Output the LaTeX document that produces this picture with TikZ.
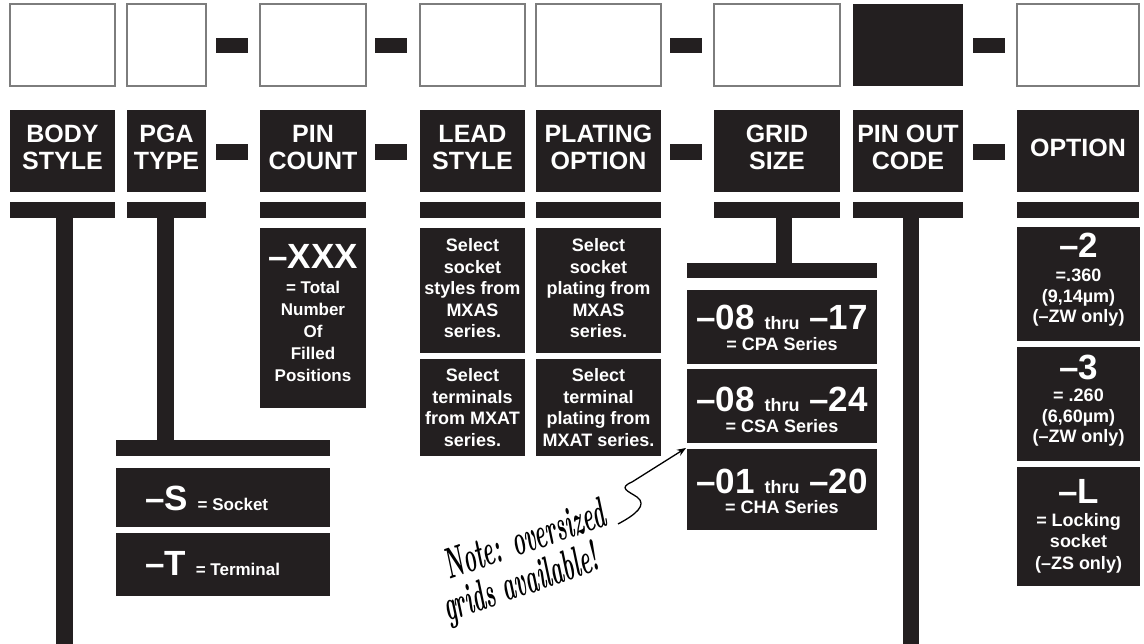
\documentclass[tikz,border=0pt]{standalone}
\usepackage{fontspec}
\newfontfamily\chartfont{Liberation Sans}
\usetikzlibrary{arrows.meta}
\definecolor{chartink}{RGB}{35,31,32}
\definecolor{cellgray}{RGB}{125,125,125}
\tikzset{
  cellframe/.style={draw=cellgray,line width=1.4pt,fill=white},
  ink/.style={fill=chartink},
  chartlabel/.style={text=white,inner sep=0pt,align=center},
  headlabel/.style={chartlabel,font=\chartfont\bfseries\fontsize{25}{27}\selectfont},
  biglabel/.style={chartlabel,anchor=base,font=\chartfont\bfseries\fontsize{35}{35}\selectfont},
  smalllabel/.style={chartlabel,font=\chartfont\bfseries\fontsize{18}{21.5}\selectfont},
  notelabel/.style={anchor=base west,inner sep=0pt,rotate=19,xscale=.69,yscale=1.4,
    font=\bfseries\itshape\fontsize{31}{31}\selectfont},
  notearrow/.style={line width=1.3pt,-{Stealth[length=9pt,width=7pt]}}
}
\newcommand{\codecell}[2]{\draw[cellframe] (#1,4) rectangle (#2,86);}
\newcommand{\headcell}[4]{%
  \fill[ink] (#1,110) rectangle (#2,192);
  \node[headlabel] (#4) at ({(#1+#2)/2},147.5) {#3};
  \fill[ink] (#1,202) rectangle (#2,218);
}
\newcommand{\inkbox}[4]{\fill[ink] (#1,#2) rectangle (#3,#4);}
\newcommand{\thrutext}{{\fontsize{18}{18}\selectfont thru}}
\newcommand{\smalltext}[1]{{\fontsize{17}{17}\selectfont #1}}

\begin{document}
\begin{tikzpicture}[x=1pt,y=-1pt]
  \useasboundingbox (0,0) rectangle (1144,644);
  % part number cells
  \codecell{10}{115}
  \codecell{127}{206}
  \codecell{260}{366}
  \codecell{420}{525}
  \codecell{536}{661}
  \codecell{714}{840}
  \fill[ink] (853,4) rectangle (963,86);
  \codecell{1017}{1139}
  \foreach \dx in {216,375,670,973}{
    \fill[ink] (\dx,38) rectangle ++(32,15);
    \fill[ink] (\dx,144) rectangle ++(32,16);
  }
  % headings
  \headcell{10}{115}{BODY\\STYLE}{body}
  \headcell{127}{206}{PGA\\TYPE}{pga}
  \headcell{260}{366}{PIN\\COUNT}{pincount}
  \headcell{420}{525}{LEAD\\STYLE}{lead}
  \headcell{536}{661}{PLATING\\OPTION}{plating}
  \headcell{714}{840}{GRID\\SIZE}{grid}
  \headcell{853}{963}{PIN OUT\\CODE}{pinout}
  \headcell{1017}{1139}{OPTION}{option}
  % body style and pin out code run off the page
  \inkbox{56}{218}{73}{644}
  \inkbox{903}{218}{919}{644}
  % pga type
  \inkbox{157}{218}{174}{440}
  \inkbox{116}{440}{330}{456}
  \inkbox{116}{468}{330}{527}
  \inkbox{116}{533}{330}{596}
  \node[biglabel,anchor=base west] (socket) at (145,510) {–S \smalltext{= Socket}};
  \node[biglabel,anchor=base west] (terminal) at (145,575) {–T \smalltext{= Terminal}};
  % pin count
  \inkbox{260}{228}{366}{408}
  \node[biglabel] (xxx) at (313,269) {–XXX};
  \node[smalllabel,font=\chartfont\bfseries\fontsize{17}{22}\selectfont] (xxxnote)
    at (313,331) {= Total\\Number\\Of\\Filled\\Positions};
  % lead style
  \inkbox{420}{228}{525}{353}
  \inkbox{420}{359}{525}{456}
  \node[smalllabel] (leadmxas) at (472.5,288.5) {Select\\socket\\styles from\\MXAS\\series.};
  \node[smalllabel] (leadmxat) at (472.5,407.75) {Select\\terminals\\from MXAT\\series.};
  % plating option
  \inkbox{536}{228}{661}{353}
  \inkbox{536}{359}{661}{456}
  \node[smalllabel] (platemxas) at (598.5,288.5) {Select\\socket\\plating from\\MXAS\\series.};
  \node[smalllabel] (platemxat) at (598.5,407.75) {Select\\terminal\\plating from\\MXAT series.};
  % grid size
  \inkbox{776}{218}{792}{263}
  \inkbox{687}{263}{877}{278}
  \inkbox{687}{290}{877}{364}
  \inkbox{687}{369}{877}{443}
  \inkbox{687}{449}{877}{530}
  \node[biglabel] (cpa) at (782,330) {–08 \thrutext{} –17};
  \node[smalllabel,anchor=base] (cpanote) at (782,351) {= CPA Series};
  \node[biglabel] (csa) at (782,412) {–08 \thrutext{} –24};
  \node[smalllabel,anchor=base] (csanote) at (782,432) {= CSA Series};
  \node[biglabel] (cha) at (782,493) {–01 \thrutext{} –20};
  \node[smalllabel,anchor=base] (chanote) at (782,513) {= CHA Series};
  \coordinate (chacorner) at (686,448);
  % option
  \inkbox{1017}{227}{1140}{341}
  \inkbox{1017}{347}{1140}{461}
  \inkbox{1017}{467}{1140}{586}
  \node[biglabel] (opttwo) at (1078.5,258) {–2};
  \node[smalllabel,font=\chartfont\bfseries\fontsize{18}{20.5}\selectfont] (opttwonote)
    at (1078.5,298) {=.360\\(9,14µm)\\(–ZW only)};
  \node[biglabel] (optthree) at (1078.5,380) {–3};
  \node[smalllabel,font=\chartfont\bfseries\fontsize{18}{20.5}\selectfont] (optthreenote)
    at (1078.5,418) {= .260\\(6,60µm)\\(–ZW only)};
  \node[biglabel] (optlock) at (1078.5,503) {–L};
  \node[smalllabel] (optlocknote) at (1078.5,543) {= Locking\\socket\\(–ZS only)};
  % handwritten note
  \node[notelabel] (notetop) at (449,580) {Note: oversized};
  \node[notelabel] (notebottom) at (448,622) {grids available!};
  \draw[notearrow] (618,524) .. controls (635,515) and (648,505) .. (637,497)
    .. controls (628,491) and (618,488) .. (632,482) -- (chacorner);
\end{tikzpicture}
\end{document}
